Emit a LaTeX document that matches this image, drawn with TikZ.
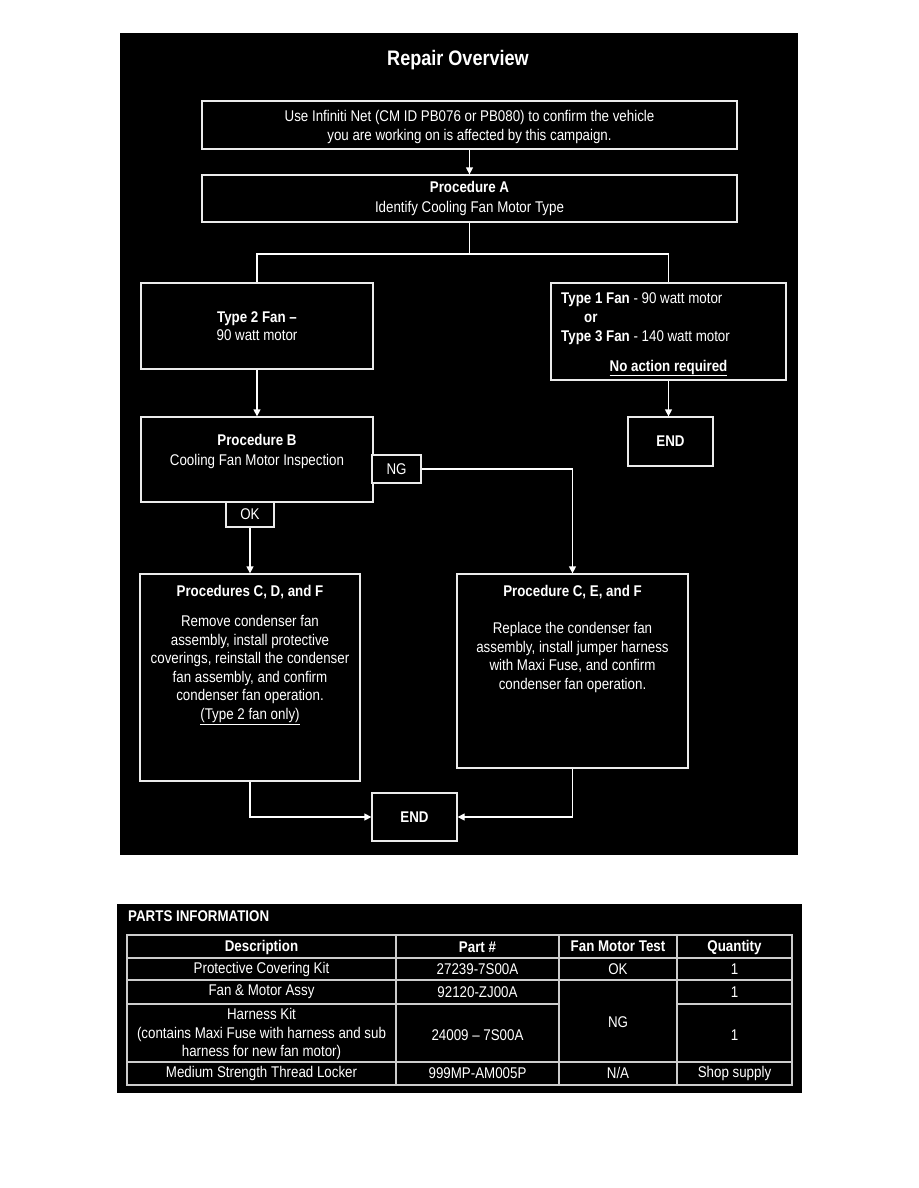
\documentclass[tikz,border=0pt]{standalone}
\usepackage{fontspec}
\setmainfont{Liberation Sans}[FakeStretch=0.86]
\usetikzlibrary{arrows.meta,positioning}

\begin{document}
\begin{tikzpicture}[
  x=1pt, y=-1pt,
  flowbox/.style={draw=white!92!black, line width=1.3pt, fill=black, text=white,
    inner sep=0pt, align=center, font=\fontsize{15.5}{18.5}\selectfont},
  flowtext/.style={text=white, inner sep=0pt, align=center, font=\fontsize{15.5}{18.5}\selectfont},
  flowline/.style={draw=white, line width=1.3pt},
  flowarrow/.style={flowline, -{Triangle[width=7pt,length=7pt]}},
  gridline/.style={draw=white!80!black, line width=1.2pt},
  cell/.style={text=white, inner sep=0pt, align=center, font=\fontsize{15.5}{18.5}\selectfont}
]
  \useasboundingbox (0,0) rectangle (918,1188);
  \fill[white] (0,0) rectangle (918,1188);

  % Repair Overview
  \fill[black] (120,33) rectangle (798,855);
  \node[text=white, font=\fontsize{21}{24}\bfseries] (title) at (458,60) {Repair Overview};

  \node[flowbox, minimum width=535, minimum height=48] (confirm) at (469.5,125) {};
  \node[flowtext, below=10pt of confirm.north] (confirmtxt)
    {Use Infiniti Net (CM ID PB076 or PB080) to confirm the vehicle\\
     you are working on is affected by this campaign.};
  \node[flowbox, minimum width=535, minimum height=47] (procA) at (469.5,198.5) {};
  \node[flowtext, font=\fontsize{15.5}{20}\selectfont, below=7pt of procA.north] (procAtxt)
    {\textbf{Procedure A}\\Identify Cooling Fan Motor Type};
  \coordinate (split) at (469.5,254);

  \node[flowbox, minimum width=232, minimum height=86] (type2) at (257,326)
    {\textbf{Type 2 Fan --}\\90 watt motor};
  \node[flowbox, minimum width=235, minimum height=97] (type13) at (668.5,331.5) {};
  \node[flowtext, align=left, anchor=north west, font=\fontsize{15.5}{19}\selectfont]
    (type13txt) at (561,292)
    {\textbf{Type 1 Fan} - 90 watt motor\\
     \hspace*{23pt}\textbf{or}\\
     \textbf{Type 3 Fan} - 140 watt motor};
  \node[flowtext, font=\fontsize{15.5}{18.5}\selectfont\bfseries] (noaction) at (668.5,368)
    {\underline{No action required}};
  \node[flowbox, minimum width=85, minimum height=49, font=\fontsize{15.5}{18.5}\selectfont\bfseries]
    (endA) at (670.5,441.5) {END};

  \node[flowbox, minimum width=232, minimum height=85] (procB) at (257,459.5) {};
  \node[flowtext, font=\fontsize{15.5}{20}\selectfont, below=18pt of procB.north] (procBtxt)
    {\textbf{Procedure B}\\Cooling Fan Motor Inspection};
  \node[flowbox, minimum width=49, minimum height=28] (ng) at (396.5,469) {NG};
  \node[flowbox, minimum width=48, minimum height=25] (ok) at (250,514.5) {OK};

  \node[flowbox, minimum width=220, minimum height=207] (cdf) at (250,677.5) {};
  \node[flowtext, font=\fontsize{15.5}{18.5}\selectfont\bfseries, below=12pt of cdf.north]
    (cdftitle) {Procedures C, D, and F};
  \node[flowtext, below=16pt of cdftitle] (cdftxt)
    {Remove condenser fan\\assembly, install protective\\coverings, reinstall the condenser\\
     fan assembly, and confirm\\condenser fan operation.\\\underline{(Type 2 fan only)}};

  \node[flowbox, minimum width=231, minimum height=194] (cef) at (572.5,671) {};
  \node[flowtext, font=\fontsize{15.5}{18.5}\selectfont\bfseries, below=12pt of cef.north]
    (ceftitle) {Procedure C, E, and F};
  \node[flowtext, below=23pt of ceftitle] (ceftxt)
    {Replace the condenser fan\\assembly, install jumper harness\\with Maxi Fuse, and confirm\\
     condenser fan operation.};

  \node[flowbox, minimum width=85, minimum height=48, font=\fontsize{15.5}{18.5}\selectfont\bfseries]
    (endB) at (414.5,817) {END};

  \draw[flowarrow] (confirm) -- (procA);
  \draw[flowline] (procA.south) -- (split);
  \draw[flowline] (type2.north) |- (split) -| (type13.north);
  \draw[flowarrow] (type13.south) -- (type13.south |- endA.north);
  \draw[flowarrow] (type2) -- (procB);
  \draw[flowarrow] (ng.east) -| (cef.north);
  \draw[flowarrow] (ok) -- (cdf);
  \draw[flowarrow] (cdf.south) |- (endB.west);
  \draw[flowarrow] (cef.south) |- (endB.east);

  % Parts information
  \fill[black] (117,904) rectangle (802,1093);
  \node[cell, anchor=west, font=\fontsize{15.5}{18.5}\selectfont\bfseries] (parts) at (128,916)
    {PARTS INFORMATION};
  \draw[gridline] (127,935) rectangle (792,1085);
  \foreach \x in {396,559,677}
    \draw[gridline] (\x,935) -- (\x,1085);
  \foreach \y in {958,980,1062}
    \draw[gridline] (127,\y) -- (792,\y);
  \draw[gridline] (127,1004) -- (559,1004);
  \draw[gridline] (677,1004) -- (792,1004);

  \node[cell, font=\fontsize{15.5}{18.5}\selectfont\bfseries] (hdesc) at (261.5,947) {Description};
  \node[cell, font=\fontsize{15.5}{18.5}\selectfont\bfseries] (hpart) at (477.5,947) {Part \#};
  \node[cell, font=\fontsize{15.5}{18.5}\selectfont\bfseries] (htest) at (618,946) {Fan Motor Test};
  \node[cell, font=\fontsize{15.5}{18.5}\selectfont\bfseries] (hqty) at (734.5,947) {Quantity};

  \node[cell] (desc1) at (261.5,969) {Protective Covering Kit};
  \node[cell] (part1) at (477.5,969) {27239-7S00A};
  \node[cell] (test1) at (618,969) {OK};
  \node[cell] (qty1) at (734.5,969) {1};

  \node[cell] (desc2) at (261.5,992) {Fan \& Motor Assy};
  \node[cell] (part2) at (477.5,992) {92120-ZJ00A};
  \node[cell] (qty2) at (734.5,992) {1};

  \node[cell] (desc3) at (261.5,1034)
    {Harness Kit\\(contains Maxi Fuse with harness and sub\\harness for new fan motor)};
  \node[cell] (part3) at (477.5,1035) {24009 -- 7S00A};
  \node[cell] (test23) at (618,1022) {NG};
  \node[cell] (qty3) at (734.5,1035) {1};

  \node[cell] (desc4) at (261.5,1073) {Medium Strength Thread Locker};
  \node[cell] (part4) at (477.5,1073) {999MP-AM005P};
  \node[cell] (test4) at (618,1073) {N/A};
  \node[cell] (qty4) at (734.5,1073) {Shop supply};
\end{tikzpicture}
\end{document}
